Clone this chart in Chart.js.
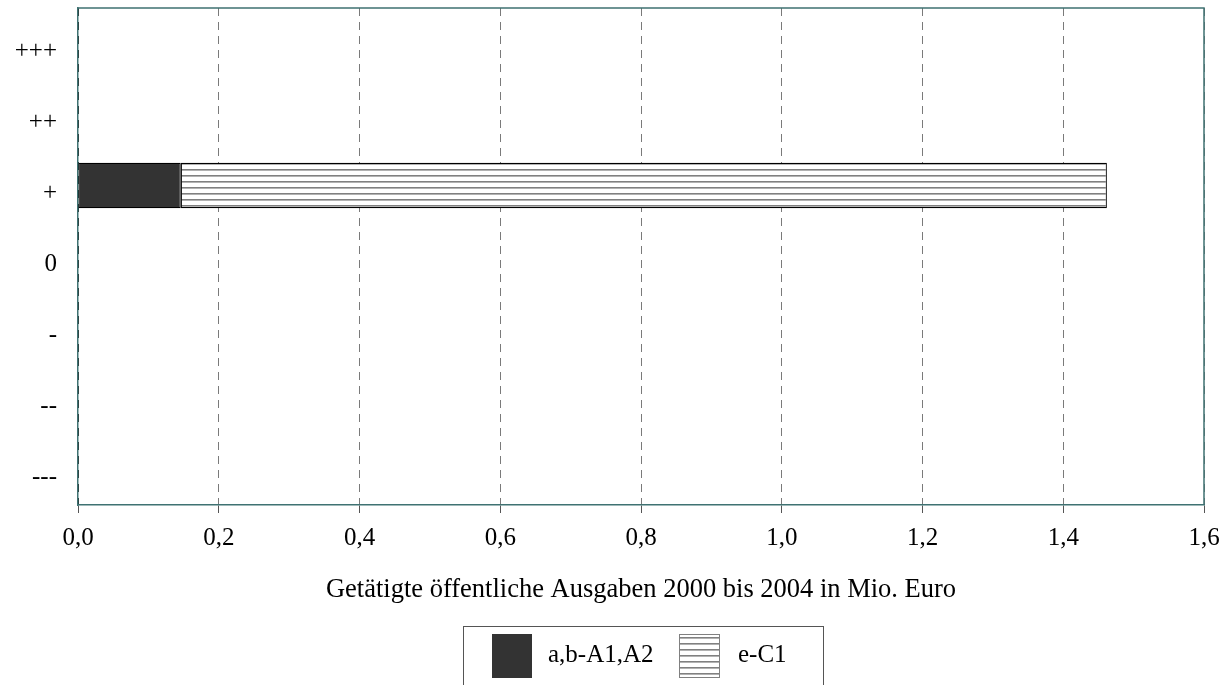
<!DOCTYPE html>
<html>
<head>
<meta charset="utf-8">
<script src="https://cdn.jsdelivr.net/npm/chart.js@4/dist/chart.umd.min.js"></script>
<style>
html,body{margin:0;padding:0;background:#fff;}
#wrap{width:1229px;height:685px;position:relative;}
</style>
</head>
<body>
<div id="wrap"><canvas id="c" width="1229" height="685"></canvas></div>
<script>
const categories = ['+++', '++', '+', '0', '-', '--', '---'];
const seriesNames = ['a,b-A1,A2', 'e-C1'];
const seriesA = [null, null, 0.146, null, null, null, null];
const seriesC = [null, null, 1.316, null, null, null, null];
const xTicks = [0, 0.2, 0.4, 0.6, 0.8, 1.0, 1.2, 1.4, 1.6];
const xTitle = 'Getätigte öffentliche Ausgaben 2000 bis 2004 in Mio. Euro';

const FONT = "'Liberation Serif', 'Times New Roman', serif";
const TEAL = '#3f7272';

function hatch() {
  const p = document.createElement('canvas');
  p.width = 8; p.height = 6;
  const g = p.getContext('2d');
  g.fillStyle = '#ffffff'; g.fillRect(0, 0, 8, 6);
  g.fillStyle = '#808080'; g.fillRect(0, 1, 8, 1.6);
  return g.createPattern(p, 'repeat');
}
const ctx = document.getElementById('c').getContext('2d');
const hatchPattern = hatch();

const frameAndLegend = {
  id: 'frameAndLegend',
  afterDraw(chart) {
    const c = chart.ctx, a = chart.chartArea;
    c.save();
    c.strokeStyle = TEAL; c.lineWidth = 1.5;
    c.beginPath();
    c.moveTo(a.left, a.top); c.lineTo(a.right, a.top); c.lineTo(a.right, a.bottom);
    c.stroke();
    // legend box
    c.strokeStyle = '#555'; c.lineWidth = 1;
    c.strokeRect(463.5, 626.5, 360, 80);
    const ds = chart.data.datasets;
    const items = [{x: 492, tx: 548}, {x: 679, tx: 738}];
    c.font = '25px ' + FONT;
    c.textBaseline = 'middle';
    ds.forEach((d, i) => {
      const it = items[i];
      c.fillStyle = d.backgroundColor;
      c.fillRect(it.x, 634, 40, 44);
      if (i === 1) { c.strokeStyle = '#808080'; c.strokeRect(it.x + 0.5, 634.5, 40, 43); }
      c.fillStyle = '#000';
      c.fillText(d.label, it.tx, 655);
    });
    c.restore();
  }
};

new Chart(ctx, {
  type: 'bar',
  data: {
    labels: categories,
    datasets: [
      {label: seriesNames[0], data: seriesA, backgroundColor: '#333333', borderColor: '#000', borderWidth: 1.2, borderSkipped: false},
      {label: seriesNames[1], data: seriesC, backgroundColor: hatchPattern, borderColor: '#000', borderWidth: 1.2, borderSkipped: false}
    ]
  },
  options: {
    indexAxis: 'y',
    responsive: false,
    animation: false,
    devicePixelRatio: 1,
    layout: {padding: {left: 0, top: 8, right: 25, bottom: 0}},
    plugins: {legend: {display: false}, tooltip: {enabled: false}, title: {display: false}},
    datasets: {bar: {barPercentage: 0.64, categoryPercentage: 1.0}},
    scales: {
      x: {
        stacked: true, min: 0, max: 1.6,
        afterBuildTicks(s) { s.ticks = xTicks.map(v => ({value: v})); },
        afterFit(s) { s.height = 180; s.paddingLeft = 0; s.paddingRight = 0; },
        grid: {
          color: c => (c.tick && c.tick.value === 0) ? '#1a1a1a' : '#7a7a7a',
          lineWidth: 1, tickLength: 8, tickColor: '#555', tickBorderDash: []
        },
        border: {display: true, color: TEAL, width: 1.5, dash: [8, 6]},
        ticks: {
          color: '#000', padding: 10, maxRotation: 0,
          font: {family: FONT, size: 25},
          callback: v => v.toFixed(1).replace('.', ',')
        },
        title: {display: true, text: xTitle, color: '#000', font: {family: FONT, size: 26.5}, padding: {top: 0, bottom: 79}}
      },
      y: {
        stacked: true,
        afterFit(s) { s.width = 78; s.paddingTop = 0; s.paddingBottom = 0; },
        grid: {display: false, drawTicks: false, tickLength: 0},
        border: {display: true, color: TEAL, width: 1.5},
        ticks: {color: '#000', padding: 21, labelOffset: 8, font: {family: FONT, size: 25}}
      }
    }
  },
  plugins: [frameAndLegend]
});
</script>
</body>
</html>
